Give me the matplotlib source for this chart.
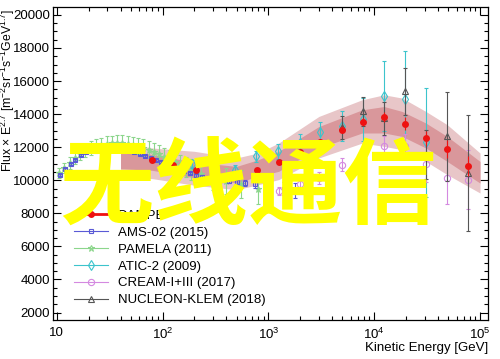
import numpy as np
import matplotlib
matplotlib.use('Agg')
from matplotlib import pyplot as plt
from matplotlib.lines import Line2D
from matplotlib.ticker import MultipleLocator, LogLocator, NullFormatter

plt.rcParams['font.family'] = ['Liberation Sans', 'DejaVu Sans']
plt.rcParams['mathtext.fontset'] = 'custom'
plt.rcParams['mathtext.rm'] = 'Liberation Sans'
plt.rcParams['mathtext.it'] = 'Liberation Sans:italic'

# DAMPE points and its two uncertainty bands
dampe_e = [79, 125, 205, 320, 495, 780, 1250, 2000, 3090, 4960, 7770, 12400, 19400, 30800, 48500, 77000]
dampe_f = [11250, 10950, 10640, 10450, 10340, 10620, 11080, 11700, 12330, 13070, 13520, 13820, 13420, 12550, 11890, 10880]
dampe_err = [60, 60, 70, 80, 90, 100, 120, 150, 180, 220, 260, 320, 380, 450, 520, 600]

band_e = [40, 80, 200, 500, 800, 1250, 3000, 7700, 12400, 18400, 30800, 49000, 100000]
outer_hi = [12300, 11950, 11750, 11350, 11650, 12250, 13860, 14870, 15170, 14970, 14160, 13360, 11650]
inner_hi = [11900, 11550, 11100, 10840, 11240, 11750, 13250, 14260, 14460, 14160, 13460, 12650, 11140]
inner_lo = [10700, 10600, 10150, 9840, 10240, 10540, 11950, 12860, 12860, 12650, 11950, 11140, 9830]
outer_lo = [10200, 10100, 9700, 9430, 9730, 10040, 11350, 12250, 12050, 11850, 11140, 10340, 9230]

ams_e = [10.7, 12, 13.5, 15, 17, 19, 21.5, 24, 27, 30, 34, 38, 43, 48, 54, 61, 68, 77, 86, 97,
         110, 125, 142, 160, 180, 206, 235, 270, 310, 360, 420, 500, 600, 750, 1000, 1400, 1800]
ams_f = [10340, 10700, 11000, 11250, 11500, 11680, 11820, 11900, 11950, 11960, 11950, 11910, 11850, 11770,
         11680, 11570, 11450, 11320, 11200, 11080, 10960, 10840, 10680, 10550, 10430, 10300, 10220, 10150,
         10080, 10020, 9960, 9900, 9830, 9750, 9650, 9500, 9400]
ams_err = [60] * 25 + [80, 90, 100, 110, 130, 150, 170, 200, 240, 300, 380, 450]

pamela_e = [10.5, 11.8, 13.2, 14.8, 16.6, 18.6, 20.9, 23.4, 26.3, 29.5, 33, 37, 41.6, 46.6, 52.3, 58.7,
            65.8, 73.8, 82.8, 92.9, 104, 117, 131, 147, 165, 185, 208, 233, 300, 400, 550, 800]
pamela_f = [10450, 10750, 11050, 11350, 11600, 11800, 11950, 12070, 12160, 12220, 12250, 12260, 12250, 12220,
            12160, 12080, 11980, 11860, 11720, 11580, 11420, 11270, 11100, 10950, 10800, 10650, 10500, 10380,
            10150, 9950, 9750, 9500]
pamela_err = [300, 320, 340, 350, 370, 380, 400, 410, 420, 430, 440, 450, 460, 470, 480, 490,
              500, 510, 520, 530, 540, 560, 580, 600, 620, 640, 660, 680, 720, 780, 850, 950]

atic_e = [190, 300, 480, 770, 1240, 1990, 3100, 4950, 7770, 12400, 19500, 30800]
atic_f = [11000, 10700, 10600, 11450, 11750, 12250, 12900, 13300, 13700, 15100, 14900, 12300]
atic_err = [250, 250, 300, 350, 450, 550, 650, 900, 1300, 2100, 2900, 3300]

cream_e = [1250, 2000, 3000, 4950, 7770, 12400, 19400, 30800, 48500, 77000]
cream_f = [9350, 9800, 10150, 10940, 11520, 12090, 12090, 11000, 10140, 10040]
cream_err = [250, 300, 350, 400, 500, 600, 700, 1100, 1600, 1800]

nucleon_e = [4960, 7770, 12400, 19400, 30800, 48500, 77000]
nucleon_f = [13200, 14160, 13750, 15370, 11550, 12650, 10440]
nucleon_err = [700, 900, 1000, 1400, 1500, 2700, 3500]

xtick_vals = [10, 100, 1000, 10000, 100000]
xtick_labels = ['10', '$10^{2}$', '$10^{3}$', '$10^{4}$', '$10^{5}$']

fig = plt.figure(figsize=(5, 3.59), dpi=100)
ax = fig.add_axes([0.106, 0.1086, 0.87, 0.872])

ax.fill_between(band_e, outer_lo, outer_hi, color='#e8c6c8', lw=0, zorder=1)
ax.fill_between(band_e, inner_lo, inner_hi, color='#d9979b', lw=0, zorder=2)

ebkw = dict(linestyle='none', elinewidth=0.8, capsize=1.5, capthick=0.8)
ax.errorbar(pamela_e, pamela_f, yerr=pamela_err, fmt='*', color='#8cd68c', ms=5, mfc='none', mew=0.8,
            zorder=3, **ebkw)
ax.errorbar(ams_e, ams_f, yerr=ams_err, fmt='s', color='#5a5ad6', ms=3.5, mfc='none', mew=0.8,
            zorder=4, **ebkw)
ax.errorbar(atic_e, atic_f, yerr=atic_err, fmt='d', color='#3cc4cc', ms=5, mfc='none', mew=0.8,
            zorder=5, **ebkw)
ax.errorbar(cream_e, cream_f, yerr=cream_err, fmt='o', color='#d489e0', ms=4.5, mfc='none', mew=0.8,
            zorder=5, **ebkw)
ax.errorbar(nucleon_e, nucleon_f, yerr=nucleon_err, fmt='^', color='#555555', ms=5, mfc='none', mew=0.8,
            zorder=6, **ebkw)
ax.errorbar(dampe_e, dampe_f, yerr=dampe_err, fmt='o', color='#ee1111', ms=5, mew=0,
            zorder=7, **ebkw)

ax.set_xscale('log')
ax.set_xlim(9.2, 1.19e5)
ax.set_ylim(1550, 20480)
ax.set_xticks(xtick_vals)
ax.set_xticklabels(xtick_labels)
ax.xaxis.set_minor_locator(LogLocator(base=10, subs=np.arange(2, 10)))
ax.xaxis.set_minor_formatter(NullFormatter())
ax.yaxis.set_minor_locator(MultipleLocator(500))
ax.set_yticks(np.arange(2000, 20001, 2000))
ax.tick_params(which='both', direction='in', top=True, right=True, labelsize=9.5, width=0.8)
ax.tick_params(which='major', length=6, pad=5)
ax.tick_params(which='minor', length=3)
ax.tick_params(axis='y', pad=2)
for s in ax.spines.values():
    s.set_linewidth(0.9)

ax.set_ylabel(r'Flux $\times$ E$^{2.7}$ [m$^{-2}$sr$^{-1}$s$^{-1}$GeV$^{1.7}$]', fontsize=8.8)
ax.yaxis.set_label_coords(-0.083, 0.735)
ax.set_xlabel('Kinetic Energy [GeV]', fontsize=9.5, labelpad=2)
ax.xaxis.set_label_coords(1.0, -0.07)
ax.xaxis.label.set_ha('right')

handles = [
    Line2D([], [], color='#ee1111', lw=2, marker='o', ms=5, mew=0),
    Line2D([], [], color='#5a5ad6', lw=0.8, marker='s', ms=3.5, mfc='none', mew=0.8),
    Line2D([], [], color='#8cd68c', lw=0.8, marker='*', ms=5, mfc='none', mew=0.8),
    Line2D([], [], color='#3cc4cc', lw=0.8, marker='d', ms=5, mfc='none', mew=0.8),
    Line2D([], [], color='#d489e0', lw=0.8, marker='o', ms=4.5, mfc='none', mew=0.8),
    Line2D([], [], color='#555555', lw=0.8, marker='^', ms=5, mfc='none', mew=0.8),
]
labels = ['DAMPE', 'AMS-02 (2015)', 'PAMELA (2011)', 'ATIC-2 (2009)', 'CREAM-I+III (2017)', 'NUCLEON-KLEM (2018)']
ax.legend(handles, labels, loc='lower left', bbox_to_anchor=(0.035, 0.027), frameon=False, fontsize=9.5,
          handlelength=2.6, handletextpad=0.8, labelspacing=0.35, borderaxespad=0)

fig.text(0.496, 0.472, '无线通信', color='#ffff00', fontsize=68, fontweight='bold',
         family=['Noto Sans CJK SC', 'DejaVu Sans'], ha='center', va='center', zorder=10)

fig.savefig('out.png', dpi=100)
